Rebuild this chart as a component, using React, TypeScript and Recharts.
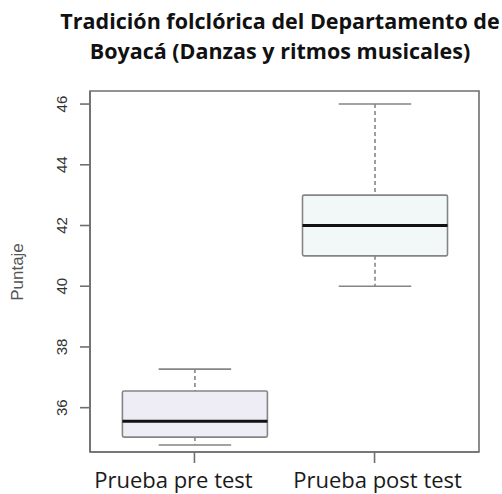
import { ComposedChart, Bar, XAxis, YAxis, ReferenceArea } from 'recharts'

const groups = ['Prueba pre test', 'Prueba post test']
const groupIndex = [1, 2]
const mins = [34.77, 40]
const q1s = [35.03, 41]
const medians = [35.55, 42]
const q3s = [36.55, 43]
const maxs = [37.27, 46]
const yTicks = [36, 38, 40, 42, 44, 46]
const yDomain = [34.54, 46.43]
const xDomain = [0.42, 2.58]

const BOX_FILLS = ['#eeedf6', '#f2f8f8']
const GREY = '#858585'
const FRAME = '#6f6f6f'

const data = groups.map((g, i) => ({
  group: g, pos: groupIndex[i], min: mins[i], q1: q1s[i], median: medians[i], q3: q3s[i], max: maxs[i],
}))

function BoxShape(props: any) {
  const { x, y, width, height, payload, index } = props
  const top = Math.min(y, y + height)
  const bottom = Math.max(y, y + height)
  const { min, q1, median, q3, max } = payload
  // linear map inside the bar's own min..max pixel span
  const py = (v: number) => bottom - ((v - min) / (max - min)) * (bottom - top)
  const cx = x + width / 2
  const cap = width / 4
  return (
    <g>
      <line x1={cx} x2={cx} y1={py(max)} y2={py(q3)} stroke={GREY} strokeWidth={1.6} strokeDasharray="4 3" />
      <line x1={cx} x2={cx} y1={py(q1)} y2={py(min)} stroke={GREY} strokeWidth={1.6} strokeDasharray="4 3" />
      <line x1={cx - cap} x2={cx + cap} y1={py(max)} y2={py(max)} stroke={GREY} strokeWidth={1.6} />
      <line x1={cx - cap} x2={cx + cap} y1={py(min)} y2={py(min)} stroke={GREY} strokeWidth={1.6} />
      <rect x={x} y={py(q3)} width={width} height={py(q1) - py(q3)} fill={BOX_FILLS[index % 2]} stroke={GREY} strokeWidth={1.6} rx={1.5} />
      <line x1={x} x2={x + width} y1={py(median)} y2={py(median)} stroke="#111" strokeWidth={3} />
    </g>
  )
}

function YTick({ x, y, payload }: any) {
  const bx = x - 13
  return (
    <text x={bx} y={y} transform={`rotate(-90, ${bx}, ${y})`} textAnchor="middle"
      fontFamily="Liberation Sans, Arial, sans-serif" fontSize={15} fill="#333">
      {payload.value}
    </text>
  )
}

function XTick({ x, y, payload, index }: any) {
  const shift = index === 0 ? -21 : 3
  return (
    <text x={x + shift} y={y + 25} textAnchor="middle" fontFamily="Open Sans, sans-serif" fontSize={22} fill="#1a1a1a">
      {groups[groupIndex.indexOf(payload.value)]}
    </text>
  )
}

export default function App() {
  return (
    <div style={{ position: 'absolute', left: 0, top: 0, width: 502, height: 494, background: '#fff' }}>
      <div style={{
        position: 'absolute', left: 280, top: 6, transform: 'translateX(-50%)', whiteSpace: 'nowrap',
        textAlign: 'center', fontFamily: 'Open Sans, sans-serif', fontWeight: 700, fontSize: 21.5, lineHeight: '30px', color: '#111',
      }}>
        Tradición folclórica del Departamento de<br />Boyacá (Danzas y ritmos musicales)
      </div>
      <div style={{
        position: 'absolute', left: 18, top: 272, transform: 'translate(-50%, -50%) rotate(-90deg)', whiteSpace: 'nowrap',
        fontFamily: 'Liberation Sans, Arial, sans-serif', fontSize: 17, color: '#555',
      }}>
        Puntaje
      </div>
      <ComposedChart width={502} height={494} data={data} margin={{ top: 91, right: 23, bottom: 0, left: 0 }}>
        <XAxis dataKey="pos" type="number" domain={xDomain} ticks={groupIndex} allowDataOverflow height={42}
          tickSize={11} tickMargin={0} stroke={FRAME} strokeWidth={1.6} tick={<XTick />} interval={0} />
        <YAxis type="number" domain={yDomain} ticks={yTicks} allowDataOverflow width={90} tickSize={10}
          tickMargin={0} stroke={FRAME} strokeWidth={1.6} tick={<YTick />} />
        {/* plot frame */}
        <ReferenceArea y1={yDomain[0]} y2={yDomain[1]} fill="none" fillOpacity={0} stroke={FRAME} strokeWidth={1.6} strokeOpacity={1} />
        <Bar dataKey={(d: any) => [d.min, d.max]} barSize={145} shape={<BoxShape />} isAnimationActive={false} />
      </ComposedChart>
    </div>
  )
}
